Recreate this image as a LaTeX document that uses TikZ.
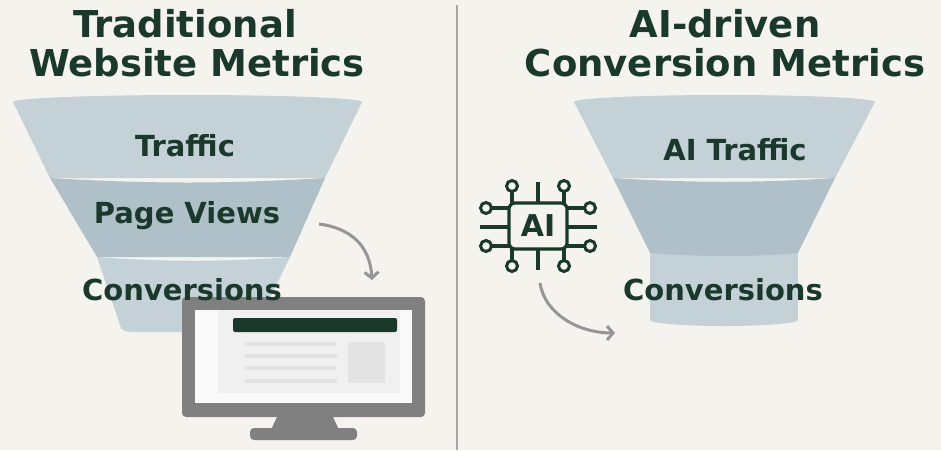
\documentclass[tikz,border=0pt]{standalone}
\usepackage{fontspec}
\setmainfont{DejaVu Sans}
\usetikzlibrary{arrows.meta}
\definecolor{bgc}{RGB}{245,243,238}
\definecolor{ink}{RGB}{26,56,44}
\definecolor{bandA}{RGB}{196,209,215}
\definecolor{bandB}{RGB}{176,192,200}
\definecolor{arrowc}{RGB}{150,150,150}
\definecolor{frame}{RGB}{128,128,128}
\tikzset{every picture/.style={line width=0.75pt}}
\tikzset{
  title/.style={font=\bfseries\fontsize{37}{37}\selectfont, text=ink, inner sep=0pt},
  label/.style={font=\bfseries\fontsize{29}{29}\selectfont, text=ink, inner sep=0pt},
  flow/.style={draw=arrowc, line width=3pt, -{Straight Barb[length=6pt,width=14pt]}},
  lead/.style={draw=ink, line width=3.2pt},
  pin/.style={draw=ink, line width=3pt, fill=bgc}
}
\begin{document}
\begin{tikzpicture}[x=1pt,y=1pt,yscale=-1,xscale=1]
	\useasboundingbox (0,0) rectangle (941,450);
	\fill [bgc] (0,0) rectangle (941,450);
	
	%Divider
	\draw [frame!70, line width=2pt] (457,5) -- (457,450);
	
	% Titles
	\node [title] (t1) at (185,24) {Traditional};
	\node [title] (t2) at (197,63) {Website Metrics};
	\node [title] (t3) at (725,24) {AI-driven};
	\node [title] (t4) at (725,63) {Conversion Metrics};
	
	%Left funnel
	\fill [bandA] (13,102) -- (50,178) -- (325,178) -- (362,102) -- cycle;
	\fill [bandA] (187.5,102) ellipse (174.5 and 7);
	\fill [bandB] (50,178) .. controls (150,184) and (225,184) .. (325,178) -- (290,257) -- (97,257) -- cycle;
	\fill [bandA] (97,257) .. controls (160,262) and (227,262) .. (290,257) -- (257,325) .. controls (257,331) and (250,332) .. (240,332) -- (137,332) .. controls (127,332) and (120,331) .. (120,325) -- cycle;
	
	\node [label] (traffic) at (185,146) {Traffic};
	\node [label] (views) at (187,216) {Page Views};
	
	%Monitor
	\fill [frame, rounded corners=4pt] (182,297) rectangle (425,417);
	\fill [white!96!gray] (195,310) rectangle (412,403);
	\fill [white!88!gray] (218,310) rectangle (400,393);
	\fill [ink, rounded corners=2pt] (233,318) rectangle (397,332);
	\foreach \yy in {344,356,368,381}
		\fill [white!78!gray] (245,\yy-2) rectangle (337,\yy+2);
	\fill [white!78!gray] (348,342) rectangle (385,383);
	\fill [frame] (277,417) -- (333,417) -- (340,432) -- (270,432) -- cycle;
	\fill [frame, rounded corners=4pt] (250,428) rectangle (357,440);
	
	\node [label] (conv1) at (182,290) {Conversions};
	
	\coordinate (a1) at (319,224);
	\coordinate (a2) at (372,280);
	\draw [flow] (a1) .. controls (350,228) and (370,245) .. (a2);
	
	%Right funnel
	\fill [bandA] (650,253) rectangle (798,320);
	\fill [bandA] (724,320) ellipse (74 and 6);
	\fill [bandA] (574,102) -- (613,178) -- (835,178) -- (875,102) -- cycle;
	\fill [bandA] (724.5,102) ellipse (150.5 and 7);
	\fill [bandB] (613,178) .. controls (690,183) and (760,183) .. (835,178) -- (798,253) .. controls (750,257) and (700,257) .. (650,253) -- cycle;
	
	\node [label] (aitraffic) at (735,150) {AI Traffic};
	\node [label] (conv2) at (723,290) {Conversions};
	
	%AI chip
	\foreach \px in {512,564} {
		\draw [lead] (\px,186) -- (\px,266);
		\draw [pin] (\px,186) circle (5.5);
		\draw [pin] (\px,266) circle (5.5);
	}
	\draw [lead] (538,182) -- (538,270);
	\foreach \py in {208,246} {
		\draw [lead] (486,\py) -- (590,\py);
		\draw [pin] (486,\py) circle (5.5);
		\draw [pin] (590,\py) circle (5.5);
	}
	\draw [lead] (480,227) -- (597,227);
	\node [draw=ink, line width=3.2pt, fill=bgc, rounded corners=6pt, minimum width=58pt, minimum height=46pt, inner sep=0pt, font=\bfseries\fontsize{30}{30}\selectfont, text=ink] (chip) at (538,226) {AI};
	
	\coordinate (b1) at (540,283);
	\coordinate (b2) at (615,333);
	\draw [flow] (b1) .. controls (545,315) and (580,333) .. (b2);
\end{tikzpicture}
\end{document}
